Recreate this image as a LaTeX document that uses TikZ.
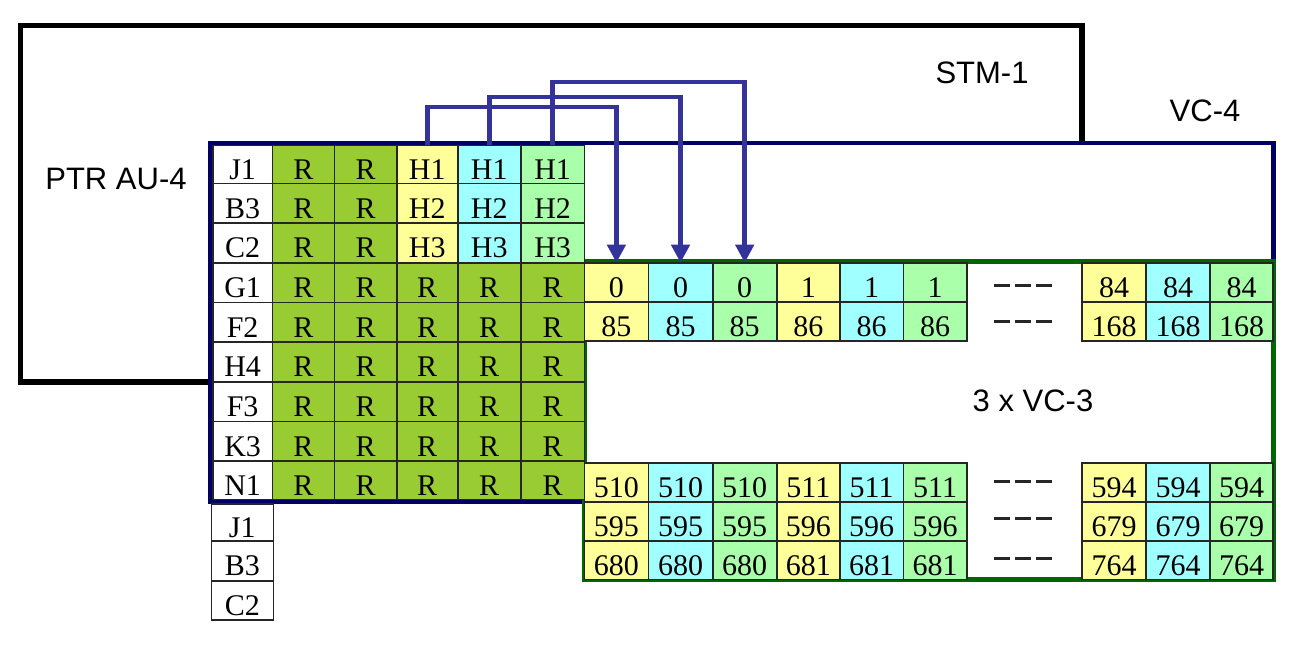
\documentclass[tikz,border=0pt]{standalone}
\usepackage{fontspec}
\setmainfont{Liberation Serif}
\newfontfamily\lsans{Liberation Sans}
\usetikzlibrary{arrows.meta}
\definecolor{rgreen}{RGB}{153,204,51}
\definecolor{cyel}{RGB}{255,255,153}
\definecolor{ccyan}{RGB}{160,255,255}
\definecolor{cgrn}{RGB}{170,255,170}
\definecolor{navy}{RGB}{0,0,102}
\definecolor{dgreen}{RGB}{0,102,0}
\definecolor{arrblue}{RGB}{51,51,153}
\colorlet{col0}{cyel}
\colorlet{col1}{ccyan}
\colorlet{col2}{cgrn}
\tikzset{
  cellbox/.style={draw=black!85, line width=1.6pt, inner sep=0pt, outer sep=0pt,
    font=\fontsize{30}{32}\selectfont, text height=30pt, text depth=0pt},
  lab/.style={font=\lsans\fontsize{31}{34}\selectfont, inner sep=0pt},
  stmframe/.style={line width=5.5pt, black},
  vcfourframe/.style={line width=4.5pt, navy, fill=white},
  vcthreeframe/.style={line width=5pt, dgreen, fill=white},
  arr/.style={arrblue, line width=4.8pt, -{Triangle[width=18pt,length=18pt]}},
  dashrow/.style={line width=3pt, black!85, dash pattern=on 16pt off 5pt},
}
\newcommand\mkcell[7]{%
  \node[cellbox, fill=#6, minimum width={#4pt-#2pt}, minimum height={#5pt-#3pt}]
    (#1) at ({(#2+#4)/2},{(#3+#5)/2}) {#7};}
\begin{document}
\begin{tikzpicture}[x=1pt,y=-1pt]
\useasboundingbox (0,0) rectangle (1314,656);
% frames
\draw[stmframe] (20.5,25.5) rectangle (1082,382);
\draw[vcfourframe] (210.5,143) rectangle (1273.5,501.5);
\draw[vcthreeframe] (584.5,261.7) rectangle (1273.8,579.7);
% left grid
\def\gx{{212.8,272.5,334.3,396.7,457.7,520.7,584.5}}
\def\gy{{145.3,183.5,223.1,262.7,302.3,342,381.7,421.3,461,499.3}}
\foreach \lb [count=\i] in {J1,B3,C2,G1,F2,H4,F3,K3,N1}{
  \pgfmathsetmacro\ya{\gy[\i-1]}
  \pgfmathsetmacro\yb{\gy[\i]}
  \mkcell{l\i}{212.8}{\ya}{272.5}{\yb}{white}{\lb}
  \foreach \j in {1,...,5}{
    \pgfmathsetmacro\xa{\gx[\j]}
    \pgfmathsetmacro\xb{\gx[\j+1]}
    \ifnum\i<4
      \ifnum\j<3
        \mkcell{c\i-\j}{\xa}{\ya}{\xb}{\yb}{rgreen}{R}
      \else
        \pgfmathtruncatemacro\cc{\j-3}
        \mkcell{c\i-\j}{\xa}{\ya}{\xb}{\yb}{col\cc}{H\i}
      \fi
    \else
      \mkcell{c\i-\j}{\xa}{\ya}{\xb}{\yb}{rgreen}{R}
    \fi
  }
}
% lower label cells
\mkcell{m1}{211.3}{503.7}{273.3}{540.7}{white}{J1}
\mkcell{m2}{211.3}{540.7}{273.3}{580.7}{white}{B3}
\mkcell{m3}{211.3}{580.7}{273.3}{620}{white}{C2}
% VC-3 cells
\def\vx{{584.5,648.3,712.7,776.7,840,903.3,967}}
\def\rx{{1082,1146,1210,1273}}
\foreach \base/\last/\ya/\yb/\nm in {0/84/262.7/301.7/a, 85/168/301.7/340.7/b, 510/594/462.7/501.7/c, 595/679/501.7/540.7/d, 680/764/540.7/579.5/e}{
  \foreach \k in {0,...,5}{
    \pgfmathsetmacro\xa{\vx[\k]}
    \pgfmathsetmacro\xb{\vx[\k+1]}
    \pgfmathtruncatemacro\num{\base+int(\k/3)}
    \pgfmathtruncatemacro\cc{mod(\k,3)}
    \mkcell{\nm\k}{\xa}{\ya}{\xb}{\yb}{col\cc}{\num}
  }
  \foreach \k in {0,1,2}{
    \pgfmathsetmacro\xa{\rx[\k]}
    \pgfmathsetmacro\xb{\rx[\k+1]}
    \mkcell{\nm r\k}{\xa}{\ya}{\xb}{\yb}{col\k}{\last}
  }
}
% continuation dashes
\foreach \yy in {285,321,481,518,558}{
  \draw[dashrow] (994,\yy) -- (1054,\yy);
}
% labels
\node[lab] (stm) at (982,73) {STM-1};
\node[lab] (vc4) at (1205,111) {VC-4};
\node[lab] (ptr) at (116,179) {PTR AU-4};
\node[lab] (vc3) at (1033,401) {3 x VC-3};
% arrows
\coordinate (ha) at (0,107);
\coordinate (hb) at (0,97);
\coordinate (hc) at (0,82);
\draw[arr] (c1-3.north) -- (c1-3.north |- ha) -| (a0.north);
\draw[arr] (c1-4.north) -- (c1-4.north |- hb) -| (a1.north);
\draw[arr] (c1-5.north) -- (c1-5.north |- hc) -| (a2.north);
\end{tikzpicture}
\end{document}
